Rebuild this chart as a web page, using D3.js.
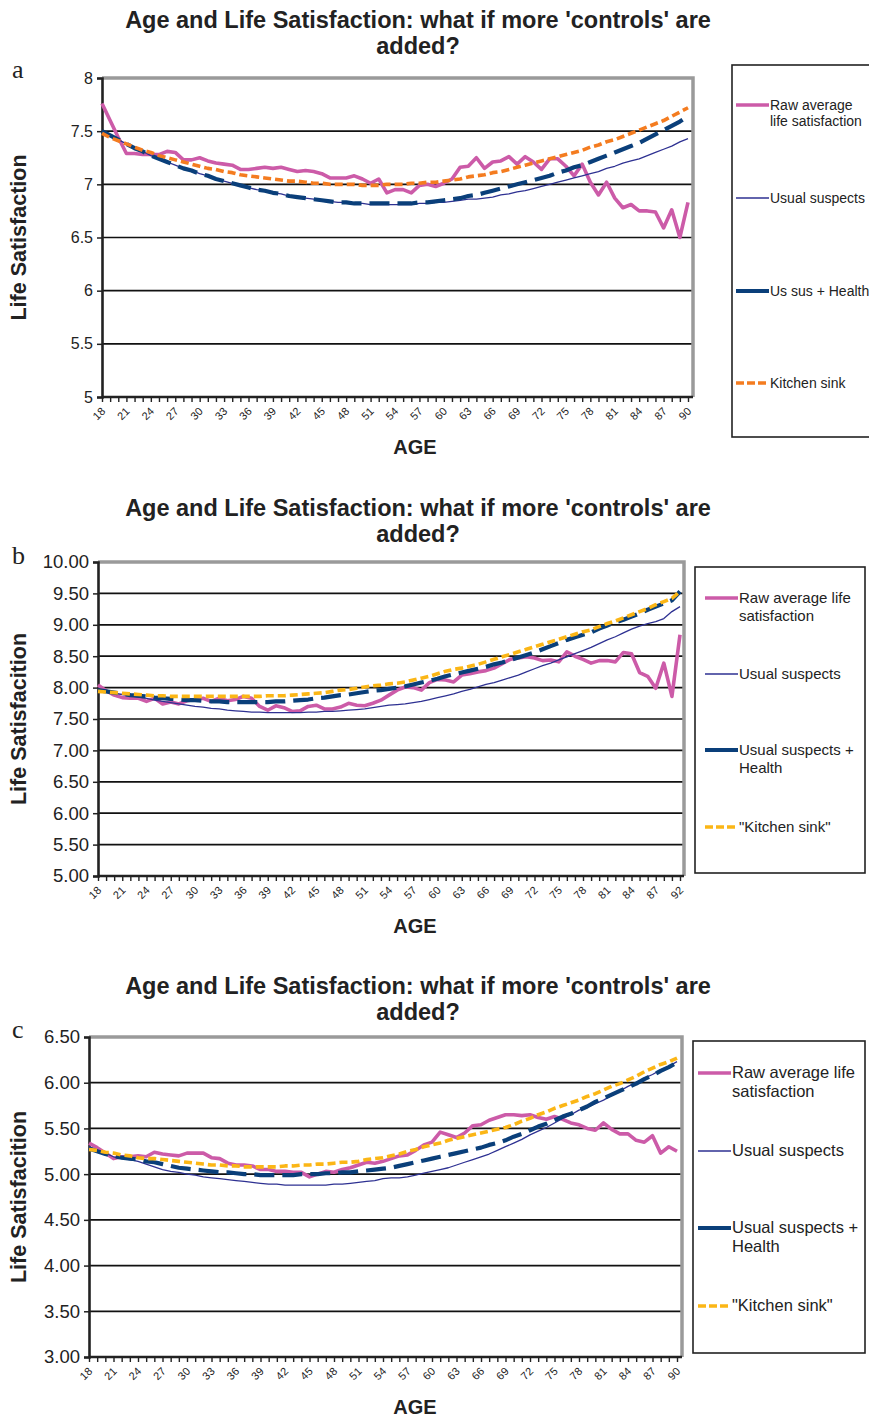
<!DOCTYPE html>
<html>
<head>
<meta charset="utf-8">
<script src="https://cdn.jsdelivr.net/npm/d3@7"></script>
<style>
  body{margin:0;background:#fff;}
  text{font-family:"Liberation Sans",Arial,sans-serif;fill:#222;}
</style>
</head>
<body>
<script>
// ---- data ----
const titleLines = ["Age and Life Satisfaction: what if more 'controls' are", "added?"];

const agesA = d3.range(18, 91);
const rawA = [7.76,7.60,7.44,7.29,7.29,7.28,7.28,7.28,7.31,7.30,7.23,7.23,7.25,7.22,7.20,7.19,7.18,7.14,7.14,7.15,7.16,7.15,7.16,7.14,7.12,7.13,7.12,7.10,7.06,7.06,7.06,7.08,7.05,7.01,7.05,6.92,6.95,6.95,6.92,6.99,7.00,6.98,7.01,7.05,7.16,7.17,7.25,7.15,7.21,7.22,7.26,7.19,7.26,7.21,7.14,7.24,7.24,7.17,7.08,7.19,7.02,6.90,7.02,6.87,6.78,6.81,6.75,6.75,6.74,6.59,6.76,6.50,6.83];
const usualA = [7.50,7.46,7.42,7.38,7.34,7.31,7.27,7.24,7.21,7.18,7.15,7.13,7.10,7.08,7.05,7.03,7.01,6.99,6.97,6.95,6.94,6.92,6.91,6.89,6.88,6.87,6.86,6.85,6.84,6.83,6.83,6.82,6.82,6.81,6.81,6.81,6.81,6.81,6.81,6.82,6.82,6.83,6.83,6.84,6.85,6.86,6.86,6.87,6.88,6.90,6.91,6.93,6.94,6.96,6.98,7.00,7.02,7.04,7.06,7.08,7.10,7.12,7.15,7.17,7.20,7.22,7.24,7.27,7.30,7.33,7.36,7.40,7.43];
const healthA = [7.50,7.46,7.42,7.38,7.34,7.31,7.27,7.24,7.21,7.18,7.15,7.13,7.10,7.08,7.05,7.03,7.01,6.99,6.97,6.95,6.94,6.92,6.91,6.89,6.88,6.87,6.86,6.85,6.84,6.83,6.83,6.82,6.82,6.82,6.82,6.82,6.82,6.82,6.82,6.83,6.83,6.84,6.85,6.86,6.87,6.89,6.90,6.92,6.94,6.96,6.98,7.00,7.02,7.04,7.06,7.08,7.11,7.13,7.16,7.18,7.21,7.24,7.27,7.30,7.33,7.36,7.39,7.43,7.47,7.51,7.55,7.59,7.64];
const sinkA = [7.48,7.44,7.41,7.38,7.35,7.32,7.30,7.27,7.25,7.23,7.21,7.19,7.17,7.15,7.14,7.12,7.11,7.09,7.08,7.07,7.06,7.05,7.04,7.03,7.03,7.02,7.01,7.01,7.00,7.00,7.00,7.00,6.99,6.99,6.99,7.00,7.00,7.00,7.01,7.01,7.02,7.02,7.03,7.04,7.05,7.07,7.08,7.09,7.11,7.12,7.14,7.16,7.18,7.20,7.22,7.24,7.26,7.28,7.30,7.32,7.35,7.37,7.40,7.42,7.45,7.48,7.51,7.54,7.57,7.60,7.64,7.68,7.72];
const yTicksA = [5, 5.5, 6, 6.5, 7, 7.5, 8];
const legendA = [["Raw average", "life satisfaction"], ["Usual suspects"], ["Us sus + Health"], ["Kitchen sink"]];

// panel b: 73 categories, the axis ends on 92
const agesB = d3.range(18, 88).concat([88, 90, 92]);
const rawB = [8.04,7.95,7.88,7.84,7.83,7.83,7.78,7.83,7.74,7.77,7.74,7.79,7.81,7.83,7.78,7.83,7.79,7.81,7.86,7.83,7.70,7.64,7.71,7.68,7.62,7.63,7.70,7.72,7.66,7.66,7.69,7.75,7.72,7.71,7.75,7.80,7.88,7.96,8.01,8.00,7.96,8.08,8.13,8.12,8.09,8.20,8.22,8.25,8.27,8.31,8.38,8.45,8.47,8.49,8.47,8.43,8.44,8.41,8.57,8.50,8.45,8.39,8.43,8.43,8.41,8.56,8.54,8.24,8.18,7.99,8.39,7.86,8.84];
const usualB = [7.95,7.93,7.91,7.89,7.87,7.85,7.83,7.80,7.78,7.76,7.74,7.72,7.70,7.69,7.67,7.66,7.64,7.63,7.62,7.61,7.61,7.60,7.60,7.60,7.60,7.60,7.61,7.61,7.62,7.62,7.63,7.64,7.65,7.66,7.68,7.70,7.72,7.73,7.74,7.76,7.78,7.81,7.84,7.87,7.90,7.94,7.97,8.01,8.05,8.08,8.12,8.16,8.20,8.25,8.30,8.35,8.39,8.44,8.49,8.54,8.59,8.64,8.70,8.76,8.81,8.87,8.93,8.98,9.02,9.05,9.10,9.21,9.29];
const healthB = [7.96,7.94,7.92,7.90,7.88,7.87,7.86,7.84,7.83,7.82,7.81,7.80,7.80,7.79,7.78,7.78,7.77,7.77,7.77,7.77,7.77,7.77,7.78,7.78,7.79,7.80,7.81,7.83,7.84,7.86,7.88,7.89,7.91,7.93,7.95,7.96,7.98,8.00,8.02,8.05,8.08,8.11,8.14,8.18,8.21,8.24,8.27,8.30,8.33,8.37,8.40,8.44,8.48,8.52,8.56,8.61,8.66,8.71,8.76,8.80,8.84,8.88,8.94,8.99,9.04,9.08,9.13,9.18,9.24,9.29,9.34,9.39,9.53];
const sinkB = [7.94,7.93,7.92,7.91,7.90,7.89,7.88,7.87,7.87,7.86,7.86,7.86,7.86,7.86,7.86,7.86,7.86,7.86,7.86,7.86,7.86,7.87,7.87,7.87,7.88,7.89,7.90,7.91,7.92,7.94,7.96,7.97,7.99,8.01,8.03,8.04,8.06,8.07,8.09,8.12,8.15,8.18,8.22,8.26,8.29,8.31,8.34,8.37,8.41,8.45,8.49,8.53,8.57,8.61,8.65,8.69,8.73,8.77,8.81,8.85,8.89,8.92,8.97,9.02,9.06,9.11,9.16,9.21,9.26,9.32,9.37,9.42,9.53];
const yTicksB = [5, 5.5, 6, 6.5, 7, 7.5, 8, 8.5, 9, 9.5, 10];
const legendBC = [["Raw average life", "satisfaction"], ["Usual suspects"], ["Usual suspects +", "Health"], ["\"Kitchen sink\""]];

const agesC = d3.range(18, 91);
const rawC = [5.34,5.29,5.23,5.17,5.19,5.19,5.20,5.19,5.24,5.22,5.21,5.20,5.23,5.23,5.23,5.18,5.17,5.12,5.10,5.10,5.09,5.05,5.05,5.03,5.03,5.02,5.02,4.97,5.00,5.03,5.02,5.05,5.07,5.10,5.13,5.12,5.14,5.17,5.20,5.21,5.26,5.32,5.35,5.46,5.43,5.40,5.45,5.53,5.54,5.59,5.62,5.65,5.65,5.64,5.65,5.62,5.60,5.63,5.60,5.56,5.54,5.50,5.48,5.56,5.49,5.44,5.44,5.37,5.35,5.42,5.23,5.30,5.25];
const usualC = [5.30,5.26,5.23,5.19,5.17,5.16,5.14,5.11,5.08,5.05,5.03,5.02,5.00,4.99,4.97,4.96,4.95,4.94,4.93,4.92,4.91,4.90,4.89,4.89,4.88,4.88,4.88,4.88,4.88,4.88,4.89,4.89,4.90,4.91,4.92,4.93,4.95,4.96,4.96,4.97,4.99,5.01,5.03,5.05,5.07,5.10,5.13,5.16,5.19,5.22,5.26,5.30,5.34,5.38,5.43,5.47,5.51,5.56,5.61,5.65,5.70,5.73,5.77,5.81,5.86,5.91,5.96,6.00,6.05,6.09,6.14,6.18,6.23];
const healthC = [5.28,5.25,5.22,5.20,5.18,5.17,5.16,5.14,5.13,5.11,5.09,5.07,5.06,5.05,5.04,5.03,5.02,5.02,5.01,5.00,5.00,4.99,4.99,4.99,4.99,4.99,5.00,5.00,5.00,5.01,5.01,5.02,5.02,5.03,5.04,5.05,5.06,5.07,5.09,5.11,5.13,5.15,5.17,5.19,5.21,5.23,5.25,5.27,5.29,5.32,5.34,5.37,5.41,5.44,5.48,5.52,5.55,5.59,5.63,5.66,5.70,5.74,5.79,5.83,5.87,5.91,5.95,5.99,6.04,6.08,6.13,6.17,6.22];
const sinkC = [5.27,5.26,5.24,5.23,5.21,5.20,5.18,5.17,5.17,5.16,5.15,5.14,5.13,5.12,5.11,5.10,5.10,5.09,5.09,5.08,5.08,5.08,5.08,5.08,5.09,5.09,5.10,5.10,5.11,5.11,5.12,5.13,5.13,5.14,5.16,5.17,5.18,5.20,5.22,5.25,5.27,5.30,5.32,5.34,5.37,5.39,5.41,5.43,5.45,5.47,5.49,5.51,5.54,5.58,5.61,5.65,5.68,5.72,5.75,5.78,5.81,5.85,5.88,5.92,5.96,5.99,6.03,6.07,6.12,6.16,6.20,6.23,6.27];
const yTicksC = [3, 3.5, 4, 4.5, 5, 5.5, 6, 6.5];

// ---- styles ----
const sRaw    = {color:"#cc5ba8", width:3.6, dash:null};
const sUsual  = {color:"#2e3192", width:1.3, dash:null};
const sHealth = {color:"#0a3f7a", width:4.2, dash:"20,8"};
const sSinkA  = {color:"#f47c20", width:3.6, dash:"8,4"};
const sSinkBC = {color:"#fbb616", width:3.6, dash:"8,4"};

const svg = d3.select("body").append("svg").attr("width",869).attr("height",1417);

function panel(c){
  const g = svg.append("g");
  const x = d3.scalePoint().domain(c.ages).range([c.left, c.lastX]);
  const y = d3.scaleLinear().domain(d3.extent(c.yTicks)).range([c.bottom, c.top]);

  // titles
  titleLines.forEach((t,i)=>{
    g.append("text").attr("x",418).attr("y",c.titleY + i*26)
      .attr("text-anchor","middle").attr("font-size","23.5px").attr("font-weight","bold").text(t);
  });
  g.append("text").attr("x",12).attr("y",c.letterY)
    .style("font-family","'Liberation Serif','Times New Roman',serif")
    .attr("font-size","26px").text(c.letter);

  // grid
  g.selectAll(".grid").data(c.yTicks.slice(1,-1)).enter().append("line")
    .attr("x1",c.left).attr("x2",c.right).attr("y1",d=>y(d)).attr("y2",d=>y(d))
    .attr("stroke","#111").attr("stroke-width",1.7);

  // frame (grey top and right)
  g.append("path")
    .attr("d",`M${c.left},${c.top}H${c.right}V${c.bottom}`)
    .attr("fill","none").attr("stroke","#9a9a9a").attr("stroke-width",3.5);

  // y axis
  const ya = g.append("g").attr("transform",`translate(${c.left},0)`)
    .call(d3.axisLeft(y).tickValues(c.yTicks).tickFormat(c.fmt).tickSize(5).tickPadding(4));
  ya.select(".domain").attr("stroke","#222").attr("stroke-width",2.6);
  ya.selectAll(".tick line").attr("stroke","#222").attr("stroke-width",1.5);
  ya.selectAll(".tick text").attr("font-size",c.yFont+"px").attr("fill","#222")
    .style("font-family","'Liberation Sans',Arial,sans-serif");

  // x axis
  const xa = g.append("g").attr("transform",`translate(0,${c.bottom})`)
    .call(d3.axisBottom(x).tickSize(5).tickFormat(""));
  xa.select(".domain").attr("d",`M${c.left},0H${c.right}`).attr("stroke","#222").attr("stroke-width",2.6);
  xa.selectAll(".tick line").attr("stroke","#222").attr("stroke-width",1.4);
  g.selectAll(".xlab").data(c.ages.filter((d,i)=>i%3===0)).enter().append("text")
    .attr("transform",d=>`translate(${x(d)+4},${c.bottom+15}) rotate(-45)`)
    .attr("text-anchor","end").attr("font-size","11px").attr("fill","#333").text(d=>d);

  // axis titles
  g.append("text").attr("x",415).attr("y",c.bottom+57).attr("text-anchor","middle")
    .attr("font-size","20px").attr("font-weight","bold").text("AGE");
  g.append("text").attr("transform",`translate(26,${(c.top+c.bottom)/2}) rotate(-90)`)
    .attr("text-anchor","middle").attr("font-size","21.5px").attr("font-weight","bold").text(c.yTitle);

  // series
  const line = d3.line().x((d,i)=>x(c.ages[i])).y(d=>y(d));
  c.series.forEach(s=>{
    g.append("path").datum(s.values).attr("d",line)
      .attr("fill","none").attr("stroke",s.style.color).attr("stroke-width",s.style.width)
      .attr("stroke-dasharray",s.style.dash).attr("stroke-linejoin","round");
  });

  // legend
  const L = c.legend;
  g.append("rect").attr("x",L.x).attr("y",L.y).attr("width",L.w).attr("height",L.h)
    .attr("fill","#fff").attr("stroke","#222").attr("stroke-width",1.6);
  c.series.forEach((s,i)=>{
    const yy = L.items[i];
    g.append("line").attr("x1",L.sx).attr("x2",L.sx+33).attr("y1",yy-5).attr("y2",yy-5)
      .attr("stroke",s.style.color).attr("stroke-width",Math.max(s.style.width,1.4))
      .attr("stroke-dasharray",s.style.dash ? (s.style===sHealth ? null : "8,3") : null);
    s.label.forEach((t,j)=>{
      g.append("text").attr("x",L.sx+34).attr("y",yy+j*L.lh)
        .attr("font-size",L.font+"px").attr("fill","#222").text(t);
    });
  });
}

panel({
  ages:agesA, left:102, lastX:688, right:693, top:78, bottom:397,
  yTicks:yTicksA, fmt:d3.format(""), yFont:16, titleY:28, letter:"a", letterY:78,
  yTitle:"Life Satisfaction",
  series:[{values:rawA,style:sRaw,label:legendA[0]},{values:usualA,style:sUsual,label:legendA[1]},
          {values:healthA,style:sHealth,label:legendA[2]},{values:sinkA,style:sSinkA,label:legendA[3]}],
  legend:{x:732,y:65,w:150,h:372,sx:736,items:[110,203,296,388],lh:16,font:14}
});
panel({
  ages:agesB, left:98, lastX:680, right:684, top:562, bottom:876,
  yTicks:yTicksB, fmt:d3.format(".2f"), yFont:18.5, titleY:516, letter:"b", letterY:564,
  yTitle:"Life Satisfacition",
  series:[{values:rawB,style:sRaw,label:legendBC[0]},{values:usualB,style:sUsual,label:legendBC[1]},
          {values:healthB,style:sHealth,label:legendBC[2]},{values:sinkB,style:sSinkBC,label:legendBC[3]}],
  legend:{x:695,y:567,w:170,h:306,sx:705,items:[603,679,755,832],lh:18,font:15}
});
panel({
  ages:agesC, left:89, lastX:677, right:682, top:1037, bottom:1357,
  yTicks:yTicksC, fmt:d3.format(".2f"), yFont:18.5, titleY:994, letter:"c", letterY:1038,
  yTitle:"Life Satisfacition",
  series:[{values:rawC,style:sRaw,label:legendBC[0]},{values:usualC,style:sUsual,label:legendBC[1]},
          {values:healthC,style:sHealth,label:legendBC[2]},{values:sinkC,style:sSinkBC,label:legendBC[3]}],
  legend:{x:693,y:1041,w:172,h:312,sx:698,items:[1078,1156,1233,1311],lh:19,font:16.5}
});
</script>
</body>
</html>
